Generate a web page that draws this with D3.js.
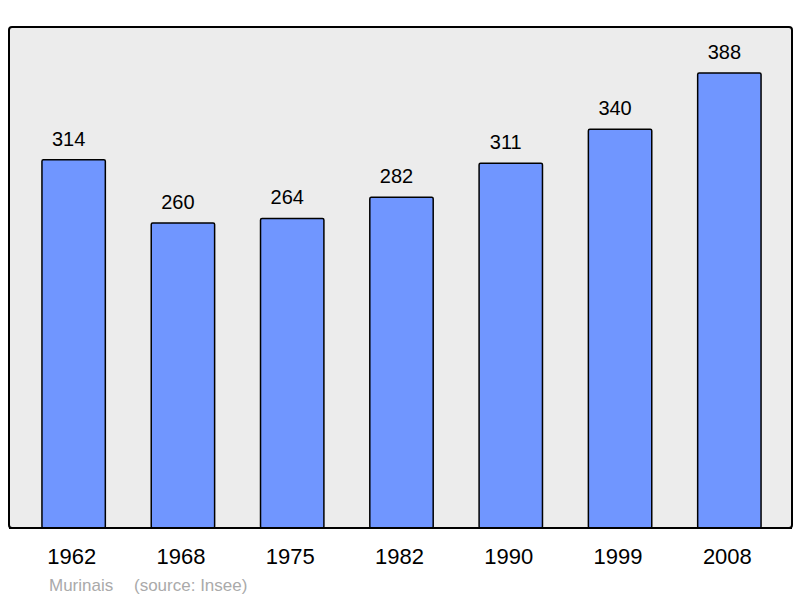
<!DOCTYPE html>
<html>
<head>
<meta charset="utf-8">
<script src="https://cdn.jsdelivr.net/npm/d3@7"></script>
<style>
  body { margin: 0; background: #fff; }
  text { font-family: "Liberation Sans", Arial, sans-serif; }
</style>
</head>
<body>
<svg id="chart" width="800" height="598"></svg>
<script>
// population data
let years = ["1962", "1968", "1975", "1982", "1990", "1999", "2008"];
let population = [314, 260, 264, 282, 311, 340, 388];
let commune = "Murinais";
let source = "(source: Insee)";

let svg = d3.select("#chart");

// panel background
svg.append("rect")
    .attr("x", 9).attr("y", 27)
    .attr("width", 783).attr("height", 501)
    .attr("rx", 3)
    .attr("fill", "#ececec")
    .attr("stroke", "#000")
    .attr("stroke-width", 2);

let x = d3.scaleBand()
    .domain(years)
    .range([19, 784])
    .paddingInner(0.42)
    .paddingOuter(0.21);

let y = d3.scaleLinear()
    .domain([0, 388])
    .range([528, 73]);

let data = years.map(function(d, i) { return {year: d, value: population[i]}; });

svg.selectAll(".bar")
  .data(data)
  .enter().append("rect")
    .attr("class", "bar")
    .attr("x", function(d) { return x(d.year); })
    .attr("y", function(d) { return y(d.value); })
    .attr("width", x.bandwidth())
    .attr("height", function(d) { return y(0) - y(d.value); })
    .attr("rx", 1.5)
    .attr("fill", "#7096ff")
    .attr("stroke", "#000")
    .attr("stroke-width", 1.5);

// value labels (sit a bit left of the bar centre, like the original)
svg.selectAll(".val")
  .data(data)
  .enter().append("text")
    .attr("class", "val")
    .attr("x", function(d) { return x(d.year) + x.bandwidth() / 2 - 5; })
    .attr("y", function(d) { return y(d.value) - 14; })
    .attr("text-anchor", "middle")
    .attr("font-size", 20)
    .attr("fill", "#000")
    .text(function(d) { return d.value; });

// redraw bottom border over the bars
svg.append("line")
    .attr("x1", 9).attr("x2", 792)
    .attr("y1", 528).attr("y2", 528)
    .attr("stroke", "#000").attr("stroke-width", 2);

// x axis labels
let axis = svg.append("g")
    .attr("transform", "translate(-2,528)")
    .call(d3.axisBottom(x).tickSize(0).tickPadding(20));
axis.select(".domain").remove();
axis.selectAll("text")
    .attr("font-size", 22)
    .attr("font-family", "Liberation Sans, Arial, sans-serif")
    .attr("fill", "#000");

svg.append("text")
    .attr("x", 49).attr("y", 591)
    .attr("font-size", 17)
    .attr("fill", "#aaa")
    .text(commune);
svg.append("text")
    .attr("x", 134).attr("y", 591)
    .attr("font-size", 17)
    .attr("fill", "#aaa")
    .text(source);
</script>
</body>
</html>
